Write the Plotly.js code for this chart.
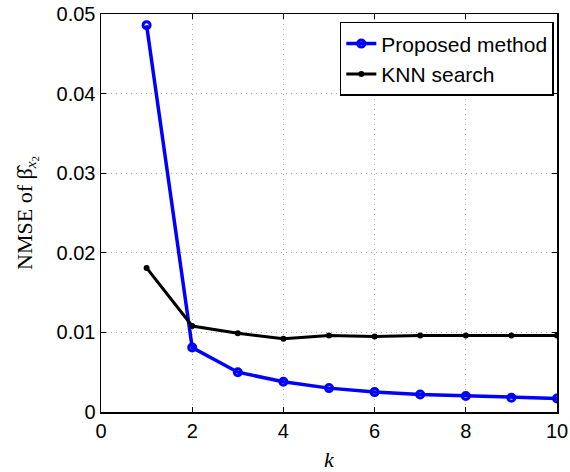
<!DOCTYPE html>
<html><head><meta charset="utf-8">
<script src="https://cdn.plot.ly/plotly-3.0.1.min.js"></script>
<style>html,body{margin:0;padding:0;background:#fff}</style>
</head><body>
<div id="chart" style="width:570px;height:472px"></div>
<script>
var kValues = [1,2,3,4,5,6,7,8,9,10];
var proposedNMSE = [0.0486,0.0081,0.0050,0.0038,0.0030,0.0025,0.0022,0.0020,0.0018,0.0017];
var knnNMSE = [0.0181,0.0108,0.0099,0.0092,0.0096,0.0095,0.0096,0.0096,0.0096,0.0096];
var xTicks = [0,2,4,6,8,10];
var yTicks = [0,0.01,0.02,0.03,0.04,0.05];
var yTickLabels = ['0','0.01','0.02','0.03','0.04','0.05'];

var traces = [
  {x:kValues, y:proposedNMSE, name:'Proposed method', mode:'lines+markers',
   line:{color:'#0000ff', width:3.5},
   marker:{symbol:'circle-open', size:7, color:'#0000ff', line:{width:3, color:'#0000ff'}}},
  {x:kValues, y:knnNMSE, name:'KNN search', mode:'lines+markers',
   line:{color:'#000000', width:3},
   marker:{symbol:'circle', size:6, color:'#000000'}}
];
var axisCommon = {showline:true, linecolor:'#000', linewidth:1.5, mirror:'ticks',
  ticks:'inside', ticklen:5, tickcolor:'#000', tickwidth:1,
  showgrid:true, gridcolor:'#aaaaaa', griddash:'1px,4px', gridwidth:1, zeroline:false,
  tickfont:{family:'Liberation Sans, Arial, sans-serif', size:20, color:'#000'}};
var layout = {
  width:570, height:472,
  margin:{l:101, r:13, t:14, b:60},
  paper_bgcolor:'#fff', plot_bgcolor:'#fff',
  showlegend:true,
  legend:{x:0.993, y:0.98, xanchor:'right', yanchor:'top', bgcolor:'#fff',
    bordercolor:'#000', borderwidth:1.5, tracegroupgap:0,
    font:{family:'Liberation Sans, Arial, sans-serif', size:21, color:'#000'}},
  xaxis:Object.assign({}, axisCommon, {range:[0,10], tickvals:xTicks, ticktext:xTicks.map(String),
    title:{text:'<i>k</i>', font:{family:'Liberation Serif, DejaVu Serif, serif', size:22, color:'#000'}, standoff:14}}),
  yaxis:Object.assign({}, axisCommon, {range:[0,0.05], tickvals:yTicks, ticktext:yTickLabels,
    title:{text:'NMSE of β̂<sub><i>x</i><sub>2</sub></sub>', font:{family:'Liberation Serif, DejaVu Serif, serif', size:22, color:'#000'}, standoff:18}})
};
Plotly.newPlot('chart', traces, layout, {displayModeBar:false, staticPlot:true});
</script>
</body></html>
